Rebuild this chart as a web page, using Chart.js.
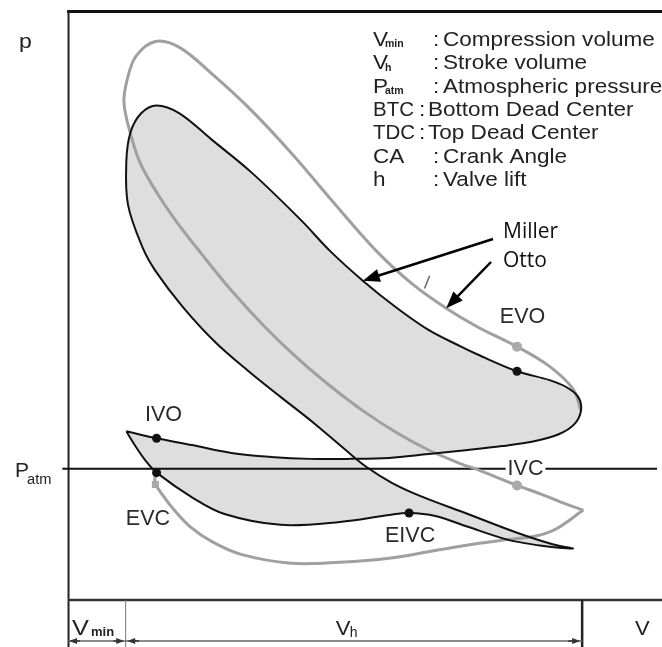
<!DOCTYPE html>
<html>
<head>
<meta charset="utf-8">
<script src="https://cdn.jsdelivr.net/npm/chart.js@4.4.0/dist/chart.umd.min.js"></script>
<style>
  html, body { margin: 0; padding: 0; background: #fff; }
  #wrap { position: relative; width: 662px; height: 647px; }
</style>
</head>
<body>
<div id="wrap"><canvas id="pv"></canvas></div>
<script>
// Volume in units of the compression volume V_min, pressure in units of p_atm.
const vMin = 1;
const vStroke = 8;
const pAtm = 1;

// Miller cycle, one closed path starting at the exhaust/intake tip.
const millerV = [1.02,1.55,2.17,2.86,3.55,4.24,4.93,5.62,6.31,7.00,7.60,8.16,8.59,8.86,8.98,8.93,8.72,8.43,7.86,7.17,
  6.88,6.31,5.74,5.16,4.59,4.07,3.21,2.52,1.95,1.55,1.28,1.09,1.02,1.05,1.31,1.53,2.00,2.57,3.16,3.72,
  4.29,4.84,5.22,5.66,6.14,7.00,7.86,8.50,8.84,8.55,8.26,7.69,7.00,6.43,5.97,5.62,4.76,3.72,2.74,2.17,
  1.55,1.36,1.19,1.02];
const millerP = [1.38,1.31,1.24,1.16,1.12,1.10,1.10,1.11,1.15,1.19,1.23,1.28,1.35,1.45,1.59,1.73,1.83,1.90,1.99,2.16,
  2.24,2.41,2.64,2.91,3.21,3.53,4.01,4.34,4.61,4.69,4.61,4.41,4.11,3.68,3.24,3.01,2.65,2.29,1.99,1.73,
  1.47,1.20,1.02,0.86,0.73,0.54,0.35,0.23,0.19,0.20,0.22,0.28,0.41,0.52,0.55,0.53,0.46,0.43,0.54,0.71,
  0.96,1.08,1.22,1.38];

// Otto cycle: intake stroke from EVC to BDC, then compression, combustion and expansion.
const ottoIntakeV = [1.52,1.53,1.66,1.86,2.14,2.52,3.03,3.90,4.76,5.62,6.43,7.17,7.69,8.21,8.55,9.02];
const ottoIntakeP = [0.95,0.85,0.73,0.58,0.41,0.26,0.13,0.04,0.05,0.09,0.17,0.24,0.28,0.32,0.39,0.58];
const ottoMainV = [9.02,8.72,8.29,7.86,7.17,6.88,6.31,5.74,5.16,4.59,4.02,3.43,2.86,2.34,1.91,1.57,1.26,1.09,0.98,1.03,
  1.19,1.53,1.95,2.52,3.21,3.95,4.64,5.40,6.02,6.62,7.17,7.86,8.43,8.84,8.98];
const ottoMainP = [0.58,0.64,0.74,0.83,0.99,1.05,1.19,1.37,1.59,1.84,2.12,2.45,2.81,3.18,3.50,3.79,4.11,4.41,4.71,4.94,
  5.19,5.34,5.28,5.01,4.64,4.18,3.71,3.21,2.88,2.63,2.44,2.24,2.04,1.81,1.59];

// Valve events
const millerEventNames = ['IVO', 'EVC', 'EIVC', 'EVO'];
const millerEventV = [1.55, 1.55, 5.97, 7.86];
const millerEventP = [1.31, 0.96, 0.55, 1.99];
const ottoEventNames = ['EVO', 'EVC', 'IVC'];
const ottoEventV = [7.86, 1.53, 7.86];
const ottoEventP = [2.24, 0.84, 0.83];

// Short stroke mark above the expansion lines
const strokeMarkV = [6.24, 6.33];
const strokeMarkP = [2.83, 2.96];

// Curve names and where their arrows point (on the curves)
const curveNames = ['Miller', 'Otto'];
const curveArrowV = [5.16, 6.62];
const curveArrowP = [2.91, 2.63];

// Symbol list
const legendSymbols = ['V', 'V', 'P', 'BTC', 'TDC', 'CA', 'h'];
const legendSubs = ['min', 'h', 'atm', '', '', '', ''];
const legendTexts = ['Compression volume', 'Stroke volume', 'Atmospheric pressure',
  'Bottom Dead Center', 'Top Dead Center', 'Crank Angle', 'Valve lift'];

const pts = (xs, ys) => xs.map((x, i) => ({ x: x, y: ys[i] }));

const FONT = '"Liberation Sans", Arial, Helvetica, sans-serif';
function text(ctx, s, x, y, size, o) {
  o = o || {};
  ctx.save();
  ctx.font = (o.bold ? 'bold ' : '') + size + 'px ' + (o.family || FONT);
  ctx.fillStyle = o.color || '#222';
  ctx.textAlign = o.align || 'left';
  ctx.textBaseline = 'alphabetic';
  ctx.translate(x, y);
  ctx.scale(o.sx || 1, 1);
  ctx.fillText(s, 0, 0);
  const w = ctx.measureText(s).width * (o.sx || 1);
  ctx.restore();
  return w;
}
function arrow(ctx, x1, y1, x2, y2, L, W, lw, color) {
  const a = Math.atan2(y2 - y1, x2 - x1);
  const c = Math.cos(a), s = Math.sin(a);
  ctx.save();
  ctx.strokeStyle = color; ctx.fillStyle = color; ctx.lineWidth = lw;
  ctx.beginPath(); ctx.moveTo(x1, y1); ctx.lineTo(x2 - L * 0.7 * c, y2 - L * 0.7 * s); ctx.stroke();
  ctx.beginPath();
  ctx.moveTo(x2, y2);
  ctx.lineTo(x2 - L * c + W * s, y2 - L * s - W * c);
  ctx.lineTo(x2 - L * c - W * s, y2 - L * s + W * c);
  ctx.closePath(); ctx.fill();
  ctx.restore();
}
function hline(ctx, x1, x2, y, w, color) {
  ctx.save(); ctx.strokeStyle = color; ctx.lineWidth = w;
  ctx.beginPath(); ctx.moveTo(x1, y); ctx.lineTo(x2, y); ctx.stroke(); ctx.restore();
}
function vline(ctx, x, y1, y2, w, color) {
  ctx.save(); ctx.strokeStyle = color; ctx.lineWidth = w;
  ctx.beginPath(); ctx.moveTo(x, y1); ctx.lineTo(x, y2); ctx.stroke(); ctx.restore();
}

const pvDecor = {
  id: 'pvDecor',
  beforeDatasetsDraw(chart) {
    const ctx = chart.ctx, xs = chart.scales.x;
    const W = chart.width, H = chart.height;
    const x0 = xs.getPixelForValue(0);
    const x1 = xs.getPixelForValue(vMin);
    const x2 = xs.getPixelForValue(vMin + vStroke);
    // frame and volume axis
    hline(ctx, x0 - 1, W, 11.5, 3, '#111');
    vline(ctx, x0 + 0.5, 10, H, 2, '#222');
    hline(ctx, x0, W, 600, 2.5, '#333');
    vline(ctx, x1 + 0.5, 600, H, 1, '#777');
    vline(ctx, x2, 600, H, 2.5, '#222');
    // dimension line for V_min and V_h
    const yd = 641;
    hline(ctx, x0, x2, yd, 1.5, '#666');
    arrow(ctx, x0 + 12, yd, x0 + 1, yd, 8, 3, 1.5, '#333');
    arrow(ctx, x1 - 12, yd, x1 - 1, yd, 8, 3, 1.5, '#333');
    arrow(ctx, x1 + 14, yd, x1 + 2, yd, 8, 3, 1.5, '#333');
    arrow(ctx, x2 - 14, yd, x2 - 2, yd, 8, 3, 1.5, '#333');
  },
  afterDatasetsDraw(chart) {
    const ctx = chart.ctx, xs = chart.scales.x, ys = chart.scales.y;
    const X = v => xs.getPixelForValue(v), Y = p => ys.getPixelForValue(p);
    const x1 = X(vMin), x2 = X(vMin + vStroke);

    // axis titles
    text(ctx, 'p', 19, 48, 20, { sx: 1.15 });
    text(ctx, 'P', 15, Y(pAtm) + 8, 20, { sx: 1.05 });
    text(ctx, 'atm', 27, Y(pAtm) + 15, 14, { sx: 1.05 });
    text(ctx, 'V', 72, 635, 22, { sx: 1.15 });
    text(ctx, 'min', 91, 636, 13, { bold: true });
    text(ctx, 'V', (x1 + x2) / 2 - 18, 635, 21, { sx: 1.05 });
    text(ctx, 'h', (x1 + x2) / 2 - 4, 637, 14);
    text(ctx, 'V', 635, 635, 21, { sx: 1.05 });

    // valve event labels
    const spot = {
      'IVO': { ref: 'm', dx: 7, dy: -17 },
      'EIVC': { ref: 'm', dx: 1, dy: 29 },
      'EVO': { ref: 'o', dx: 5.5, dy: -24 },
      'EVC': { ref: 'o', dx: -7.5, dy: 41 },
      'IVC': { ref: 'o', dx: 8.5, dy: -10, bg: true }
    };
    Object.keys(spot).forEach(name => {
      const s = spot[name];
      const names = s.ref === 'm' ? millerEventNames : ottoEventNames;
      const vv = s.ref === 'm' ? millerEventV : ottoEventV;
      const pp = s.ref === 'm' ? millerEventP : ottoEventP;
      const i = names.indexOf(name);
      const cx = X(vv[i]) + s.dx, by = Y(pp[i]) + s.dy;
      if (s.bg) {
        ctx.save(); ctx.font = '21.5px ' + FONT;
        const w = ctx.measureText(name).width;
        ctx.fillStyle = '#fff';
        ctx.fillRect(cx - w / 2 - 2, by - 17, w + 4, 19);
        ctx.restore();
      }
      text(ctx, name, cx, by, 21.5, { align: 'center', color: '#2a2a2a' });
    });

    // curve name callouts
    const tails = [[493, 239], [491, 262]];
    const labelBase = [238, 267];
    curveNames.forEach((n, i) => {
      text(ctx, n, 503, labelBase[i], 21, { family: '"Open Sans", sans-serif', color: '#111' });
      arrow(ctx, tails[i][0], tails[i][1], X(curveArrowV[i]), Y(curveArrowP[i]), 17, 6.5, 2.5, '#000');
    });

    // symbol list
    legendSymbols.forEach((sym, i) => {
      const by = 46 + i * 23.3;
      const short = sym.length === 3;
      text(ctx, sym, 373, by, 20.5, { sx: short ? 1.0 : 1.1 });
      if (legendSubs[i]) text(ctx, legendSubs[i], 385, by + (i === 1 ? 2 : 1), 10.5, { bold: true });
      text(ctx, ':', short ? 419 : 433, by, 20.5, { sx: 1.1 });
      text(ctx, legendTexts[i], short ? 428 : 443, by, 20.5, { sx: 1.1 });
    });
  }
};

new Chart(document.getElementById('pv'), {
  type: 'line',
  data: {
    datasets: [
      { label: 'Miller events', data: pts(millerEventV, millerEventP), showLine: false,
        pointRadius: 4.5, pointBackgroundColor: '#111', pointBorderWidth: 0, order: 1 },
      { label: 'Otto events', data: pts(ottoEventV, ottoEventP), showLine: false,
        pointRadius: 5, pointStyle: ['circle', 'rect', 'circle'], pointBackgroundColor: '#aaa',
        pointBorderWidth: 0, order: 2 },
      { label: 'Miller', data: pts(millerV, millerP), borderColor: '#111', borderWidth: 2,
        pointRadius: 0, tension: 0.35, fill: false, order: 3 },
      { label: 'Otto intake', data: pts(ottoIntakeV, ottoIntakeP), borderColor: '#a0a0a0', borderWidth: 3,
        pointRadius: 0, tension: 0.35, fill: false, order: 4 },
      { label: 'Otto', data: pts(ottoMainV, ottoMainP), borderColor: '#a0a0a0', borderWidth: 3,
        pointRadius: 0, tension: 0.35, fill: false, order: 4 },
      { label: 'mark', data: pts(strokeMarkV, strokeMarkP), borderColor: '#666', borderWidth: 1.5,
        pointRadius: 0, fill: false, order: 5 },
      { label: 'p_atm', data: [{ x: -0.1, y: pAtm }, { x: 10.4, y: pAtm }], borderColor: '#111', borderWidth: 2,
        pointRadius: 0, fill: false, order: 6 },
      { label: 'Miller work', data: pts(millerV, millerP), borderWidth: 0, borderColor: 'rgba(0,0,0,0)',
        backgroundColor: '#dedede', fill: 'shape', pointRadius: 0, tension: 0.35, order: 7 }
    ]
  },
  options: {
    responsive: true,
    maintainAspectRatio: false,
    devicePixelRatio: 1,
    animation: false,
    events: [],
    layout: { padding: 0 },
    plugins: { legend: { display: false }, tooltip: { enabled: false } },
    scales: {
      x: { type: 'linear', display: false, min: -64 / 58, max: 598 / 58 },
      y: { type: 'linear', display: false, min: -0.76, max: 5.71 }
    }
  },
  plugins: [pvDecor]
});
</script>
</body>
</html>
